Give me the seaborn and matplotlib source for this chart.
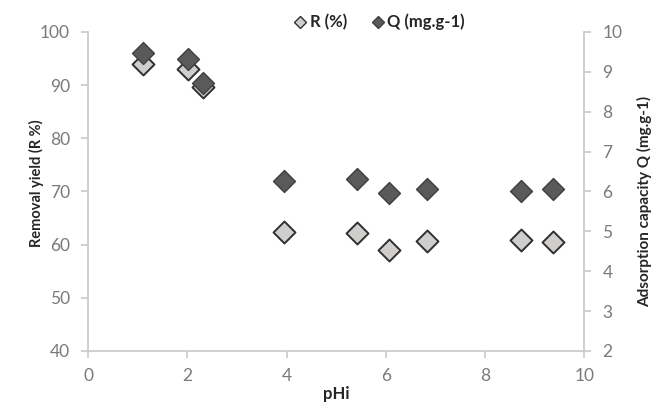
import matplotlib
matplotlib.use("Agg")
import matplotlib.pyplot as plt
import seaborn as sns
import pandas as pd

ph = [1.10, 2.02, 2.32, 3.95, 5.41, 6.07, 6.83, 8.72, 9.37]
removal_R = [93.9, 93.1, 89.7, 62.3, 62.1, 59.0, 60.7, 60.8, 60.4]
capacity_Q = [9.47, 9.32, 8.72, 6.26, 6.32, 5.95, 6.07, 6.00, 6.05]
x_ticks = [0, 2, 4, 6, 8, 10]
left_ticks = [40, 50, 60, 70, 80, 90, 100]
right_ticks = [2, 3, 4, 5, 6, 7, 8, 9, 10]

df = pd.DataFrame({"pHi": ph, "R": removal_R, "Q": capacity_Q})

sns.set_style("white")
plt.rcParams['font.family'] = ['Lato', 'DejaVu Sans']

fig = plt.figure(figsize=(6.53, 4.09), dpi=100)
ax = fig.add_axes([0.135, 0.142, 0.760, 0.780])
ax2 = ax.twinx()

spine_c = "#c8c8c8"
tick_c = "#7a7a7a"
ms = 125

sns.scatterplot(data=df, x="pHi", y="R", ax=ax, marker="D", s=ms,
                color="#d0cecc", edgecolor="#303030", linewidth=1.4, zorder=3)
sns.scatterplot(data=df, x="pHi", y="Q", ax=ax2, marker="D", s=ms,
                color="#5a5a5a", edgecolor="#404040", linewidth=1.0, zorder=3)

ax.set_xlim(0, 10)
ax.set_ylim(40, 100)
ax2.set_ylim(2, 10)
ax.set_xticks(x_ticks)
ax.set_yticks(left_ticks)
ax2.set_yticks(right_ticks)

for a in (ax, ax2):
    for s in a.spines.values():
        s.set_color(spine_c)
        s.set_linewidth(1.2)
    a.spines["top"].set_visible(False)
ax.spines["right"].set_visible(False)
ax2.spines["left"].set_visible(False)
ax2.spines["bottom"].set_visible(False)

ax.tick_params(axis="y", which="major", direction="out", length=5, width=1.2,
               color=spine_c, labelcolor=tick_c, labelsize=12.5, pad=8, left=True)
ax.tick_params(axis="x", which="major", direction="out", length=5, width=1.2,
               color=spine_c, labelcolor=tick_c, labelsize=12.5, pad=7, bottom=True)
ax2.tick_params(axis="y", direction="out", length=5, width=1.2, color=spine_c,
                labelcolor=tick_c, labelsize=12.5, pad=8, right=True)

ax.set_xlabel("pHi", fontsize=12, fontweight="bold", labelpad=2)
ax.set_ylabel("Removal yield (R %)", fontsize=10.5, fontweight="bold")
ax.yaxis.set_label_coords(-0.088, 0.527)
ax2.set_ylabel("Adsorption capacity Q (mg.g-1)", fontsize=11, fontweight="bold",
               rotation=90)
ax2.yaxis.set_label_coords(1.105, 0.47)

h1 = plt.Line2D([], [], marker="D", linestyle="none", markersize=6,
                markerfacecolor="#d0cecc", markeredgecolor="#303030", markeredgewidth=1.0)
h2 = plt.Line2D([], [], marker="D", linestyle="none", markersize=6,
                markerfacecolor="#5a5a5a", markeredgecolor="#404040", markeredgewidth=1.0)
fig.legend([h1, h2], ["R (%)", "Q (mg.g-1)"], loc="center", bbox_to_anchor=(0.58, 0.946),
           ncol=2, frameon=False, prop={"weight": "bold", "size": 12},
           handletextpad=0.1, columnspacing=1.4, handlelength=0.9)

fig.savefig("out.png", dpi=100)
